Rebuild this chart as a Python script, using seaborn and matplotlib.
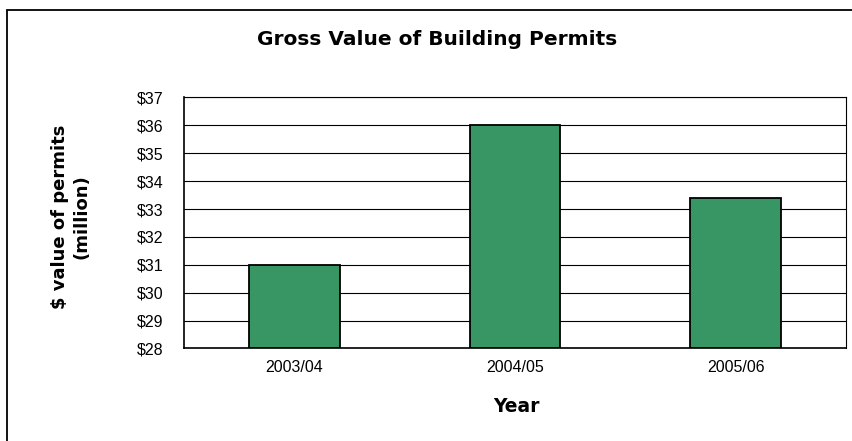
import pandas as pd
import matplotlib.pyplot as plt
import seaborn as sns
from matplotlib.patches import Rectangle

# Chart data
years = ['2003/04', '2004/05', '2005/06']
permit_values = [31.0, 36.0, 33.4]
y_ticks = [28, 29, 30, 31, 32, 33, 34, 35, 36, 37]
y_tick_labels = ['$28', '$29', '$30', '$31', '$32', '$33', '$34', '$35', '$36', '$37']

df = pd.DataFrame({'Year': years, 'Value': permit_values})

sns.set_style('white', rc={'text.color': 'black', 'xtick.color': 'black', 'ytick.color': 'black',
                           'axes.labelcolor': 'black', 'axes.edgecolor': 'black'})
plt.rcParams['font.family'] = ['Liberation Sans', 'DejaVu Sans']

fig = plt.figure(figsize=(8.53, 4.41), dpi=100)
ax = fig.add_axes([0.2157, 0.2098, 0.7761, 0.5692])

sns.barplot(data=df, x='Year', y='Value', color='#389664', saturation=1,
            width=0.41, edgecolor='black', linewidth=1.3, ax=ax, zorder=3)

# bars start at the bottom of the axis, not at zero
for bar in ax.patches:
    bar.set_y(28)
    bar.set_height(bar.get_height() - 28)

ax.set_ylim(28, 37)
ax.set_xlim(-0.5, 2.5)
ax.set_yticks(y_ticks)
ax.set_yticklabels(y_tick_labels, fontsize=11.5)
ax.tick_params(axis='x', labelsize=11.5, length=0, pad=8)
ax.set_xticks([-0.5, 0.5, 1.5, 2.5], minor=True)
ax.tick_params(axis='x', which='minor', length=4, width=0.8, direction='out', color='black')
ax.tick_params(axis='y', length=5, width=0.8, direction='out', color='black', pad=10)
ax.yaxis.grid(True, color='black', linewidth=0.8, zorder=0)
ax.set_axisbelow(True)
for side in ['left', 'bottom', 'top', 'right']:
    ax.spines[side].set_visible(True)
    ax.spines[side].set_color('black')
    ax.spines[side].set_linewidth(0.8)
ax.spines['left'].set_linewidth(1.2)
ax.spines['bottom'].set_linewidth(1.2)

ax.set_xlabel('')
ax.set_ylabel('')

bold = dict(family='DejaVu Sans', fontweight='bold', color='black')
fig.text(0.083, 0.509, '$ value of permits\n(million)', rotation=90, ha='center', va='center',
         fontsize=13, linespacing=1.3, **bold)
fig.text(0.512, 0.898, 'Gross Value of Building Permits', ha='center', va='baseline',
         fontsize=14.5, **bold)
fig.text(0.605, 0.066, 'Year', ha='center', va='baseline', fontsize=13.5, **bold)

# outer chart border (clipped at right and bottom)
fig.patches.append(Rectangle((7 / 853, -0.2), 1.2, 1.2 - 10 / 441, transform=fig.transFigure,
                             fill=False, edgecolor='black', linewidth=1.3))

fig.savefig('out.png', dpi=100)
